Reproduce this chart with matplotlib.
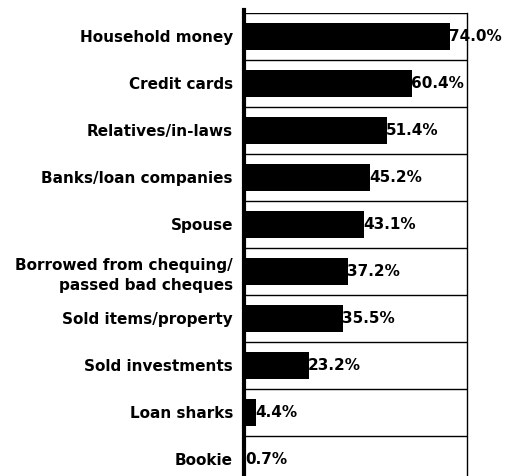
import matplotlib.pyplot as plt

categories = [
    "Household money",
    "Credit cards",
    "Relatives/in-laws",
    "Banks/loan companies",
    "Spouse",
    "Borrowed from chequing/\npassed bad cheques",
    "Sold items/property",
    "Sold investments",
    "Loan sharks",
    "Bookie",
]
percent = [74.0, 60.4, 51.4, 45.2, 43.1, 37.2, 35.5, 23.2, 4.4, 0.7]

plt.rcParams["font.family"] = ["DejaVu Sans"]

fig = plt.figure(figsize=(5.05, 4.76), dpi=100)
ax = fig.add_axes([244 / 505, (476 - 483) / 476, (467 - 244) / 505, 470 / 476])

y = list(range(len(categories)))
ax.barh(y, percent, height=0.56, color="black")

# one framed row per category
ax.hlines([i - 0.5 for i in range(len(categories) + 1)], 0, 80, color="black", lw=1.0)

for yi, v in zip(y, percent):
    ax.text(v - 0.4, yi, f"{v:.1f}%", va="center", ha="left",
            fontsize=11, fontweight="bold")

ax.set_xlim(0, 80)
ax.set_ylim(len(categories) - 0.5, -0.5)
ax.set_yticks(y)
ax.set_yticklabels(categories, fontsize=11, fontweight="bold", ha="right",
                   linespacing=1.4)
ax.tick_params(axis="y", length=0, pad=8)
ax.set_xticks([])

for s in ["top", "bottom"]:
    ax.spines[s].set_visible(False)
ax.spines["right"].set_linewidth(1.0)
ax.spines["left"].set_linewidth(3.0)
ax.spines["left"].set_bounds(len(categories) - 0.5, -0.57)

fig.savefig("out.png", dpi=100)
